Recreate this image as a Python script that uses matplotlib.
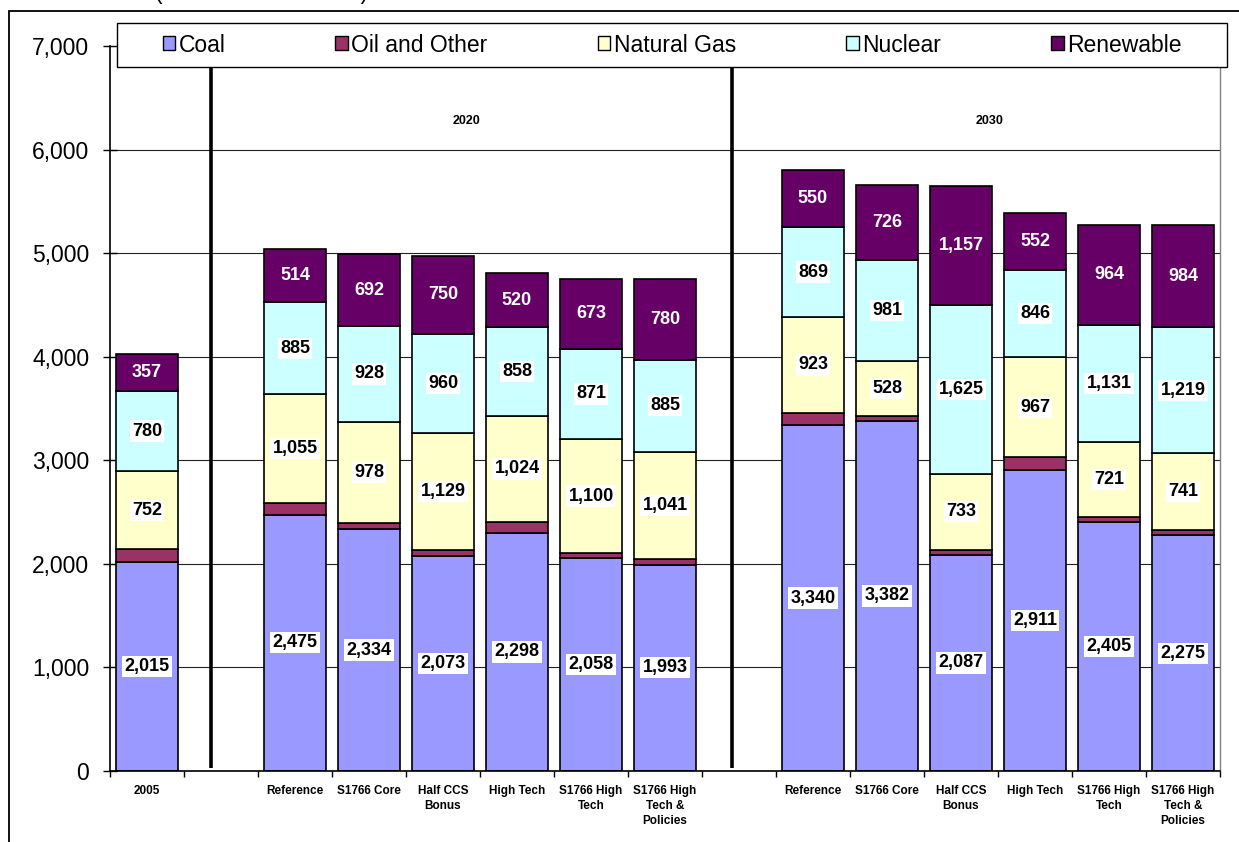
import numpy as np
import matplotlib
matplotlib.use("Agg")
import matplotlib.pyplot as plt
from matplotlib.patches import Patch, Rectangle

plt.rcParams['font.family'] = ['Liberation Sans', 'DejaVu Sans']

categories = ["2005", "", "Reference", "S1766 Core", "Half CCS\nBonus", "High Tech",
              "S1766 High\nTech", "S1766 High\nTech &\nPolicies", "",
              "Reference", "S1766 Core", "Half CCS\nBonus", "High Tech",
              "S1766 High\nTech", "S1766 High\nTech &\nPolicies"]
nan = np.nan
coal = [2015, nan, 2475, 2334, 2073, 2298, 2058, 1993, nan, 3340, 3382, 2087, 2911, 2405, 2275]
oil_other = [125, nan, 110, 58, 59, 107, 47, 50, nan, 119, 45, 50, 116, 50, 51]
natural_gas = [752, nan, 1055, 978, 1129, 1024, 1100, 1041, nan, 923, 528, 733, 967, 721, 741]
nuclear = [780, nan, 885, 928, 960, 858, 871, 885, nan, 869, 981, 1625, 846, 1131, 1219]
renewable = [357, nan, 514, 692, 750, 520, 673, 780, nan, 550, 726, 1157, 552, 964, 984]

series_names = ["Coal", "Oil and Other", "Natural Gas", "Nuclear", "Renewable"]
series_values = [coal, oil_other, natural_gas, nuclear, renewable]
series_colors = ["#9999FF", "#993366", "#FFFFCC", "#CCFFFF", "#660066"]
show_labels = [True, False, True, True, True]
group_labels = ["2020", "2030"]
yticks = [0, 1000, 2000, 3000, 4000, 5000, 6000, 7000]

W, H = 1239, 842
fig = plt.figure(figsize=(W / 100, H / 100), dpi=100)
ax = fig.add_axes([110 / W, 1 - 771 / H, (1220 - 110) / W, (771 - 46) / H])

x = np.arange(len(categories))
bottom = np.zeros(len(categories))
for name, vals, col, lab in zip(series_names, series_values, series_colors, show_labels):
    v = np.array(vals, dtype=float)
    mask = ~np.isnan(v)
    ax.bar(x[mask], v[mask], bottom=bottom[mask], width=0.84, color=col,
           edgecolor="black", linewidth=1.2, zorder=2)
    if lab:
        for xi, b, val in zip(x[mask], bottom[mask], v[mask]):
            if name == "Renewable":
                ax.text(xi, b + val / 2, f"{int(val):,}", ha="center", va="center",
                        fontsize=13, fontweight="bold", color="white", zorder=4)
            else:
                ax.text(xi, b + val / 2, f"{int(val):,}", ha="center", va="center",
                        fontsize=13, fontweight="bold", color="black", zorder=4,
                        bbox=dict(facecolor="white", edgecolor="none", pad=1.5))
    bottom[mask] += v[mask]

ax.set_xlim(-0.5, len(categories) - 0.5)
ax.set_ylim(0, 7000)
ax.set_yticks(yticks)
ax.set_yticklabels([f"{t:,}" for t in yticks], fontsize=16.5)
ax.tick_params(axis="y", direction="inout", length=10, width=1, pad=10)

ax.set_xticks(x)
ax.set_xticklabels(categories, fontsize=8.5, fontweight="bold", linespacing=1.35)
ax.set_xticks(np.arange(-0.5, len(categories)), minor=True)
ax.tick_params(axis="x", which="major", length=0, pad=10)
ax.tick_params(axis="x", which="minor", direction="out", length=4.5, width=1)

ax.yaxis.grid(True, color="#222222", linewidth=0.8, zorder=0)
ax.set_axisbelow(True)
for s in ["left", "bottom"]:
    ax.spines[s].set_linewidth(1.2)
    ax.spines[s].set_color("black")
ax.spines["right"].set_color("#808080")
ax.spines["right"].set_linewidth(1.0)
ax.spines["top"].set_visible(False)

# group separators and labels
for sx in [0.865, 7.905]:
    ax.plot([sx, sx], [30, 6790], color="black", linewidth=2.6, zorder=3, solid_capstyle="butt")
ax.text(4.32, 6274, group_labels[0], ha="center", va="center", fontsize=9, fontweight="bold")
ax.text(11.38, 6274, group_labels[1], ha="center", va="center", fontsize=9, fontweight="bold")

# outer chart frame
fig.patches.append(Rectangle((9 / W, -0.1), 1.2, 1.1 - 11 / H, transform=fig.transFigure,
                             fill=False, edgecolor="black", linewidth=1.3, zorder=1))
# legend box
fig.patches.append(Rectangle((117 / W, 1 - 67 / H), (1227 - 117) / W, 44 / H,
                             transform=fig.transFigure, facecolor="white",
                             edgecolor="black", linewidth=1.0, zorder=3))
handles = [Patch(facecolor=c, edgecolor="black", linewidth=1.0) for c in series_colors]
fig.legend(handles, series_names, loc="center", bbox_to_anchor=((117 + 1227) / 2 / W, 1 - 45 / H),
           ncol=5, frameon=False, fontsize=16.5, handlelength=0.55, handleheight=0.55,
           handletextpad=0.15, columnspacing=4.8, borderpad=0.2)

# cut-off title at the top
fig.text(155 / W, 1.0 + 1 / H, "(billion kilowatthours)", fontsize=16.5, ha="left", va="baseline")

fig.savefig("out.png", dpi=100)
